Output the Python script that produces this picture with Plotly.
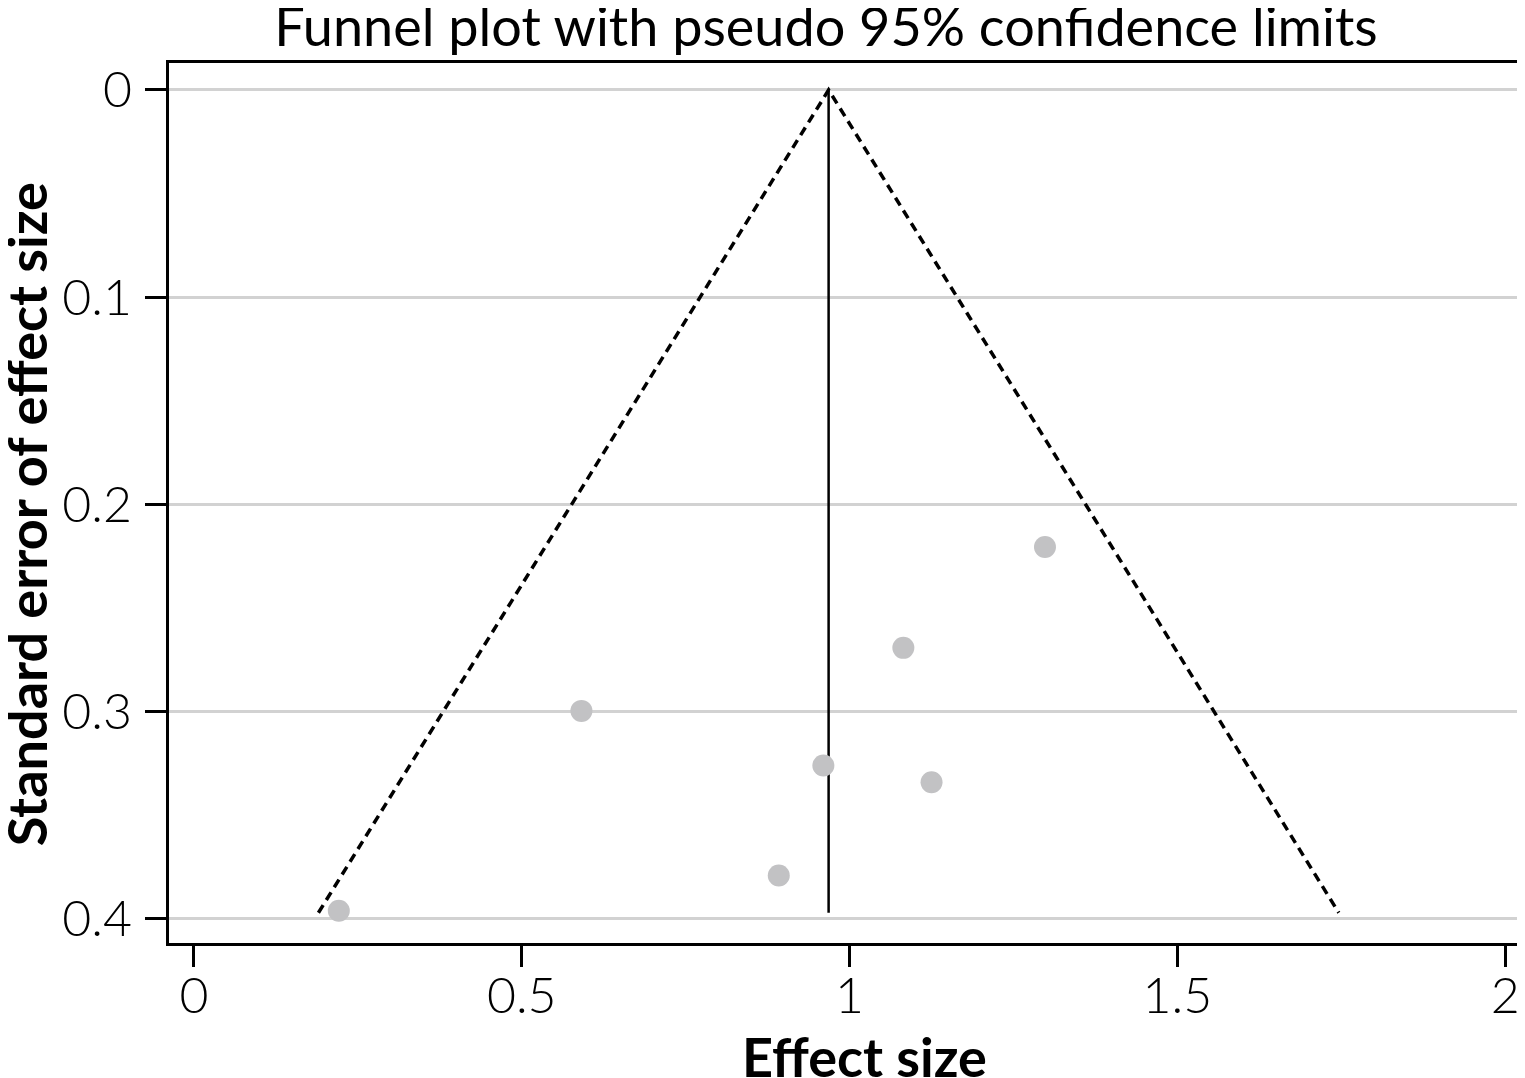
import plotly.graph_objects as go

# Study data (effect size, standard error)
effect = [1.298, 1.082, 0.591, 0.960, 1.125, 0.892, 0.221]
se = [0.2205, 0.2692, 0.2996, 0.3260, 0.3340, 0.3790, 0.3960]

# Pooled estimate and funnel extent
pooled = 0.968
se_max = 0.397
z = 1.96

x_ticks = [0, 0.5, 1, 1.5, 2]
x_ticklabels = ["0", "0.5", "1", "1.5", "2"]
y_ticks = [0, 0.1, 0.2, 0.3, 0.4]
y_ticklabels = ["0", "0.1", "0.2", "0.3", "0.4"]

FONT = "Lato"
W, H = 1525, 1078
L, T, PW, PH = 161, 55, 1355, 880

fig = go.Figure()

# Funnel limits (pseudo 95% CI)
fig.add_trace(go.Scatter(
    x=[pooled - z * se_max, pooled, pooled + z * se_max],
    y=[se_max, 0, se_max],
    mode="lines",
    line=dict(color="black", width=3.5, dash="9px,6px"),
    showlegend=False, hoverinfo="skip",
))
# Pooled estimate line
fig.add_trace(go.Scatter(
    x=[pooled, pooled], y=[0, se_max],
    mode="lines",
    line=dict(color="black", width=2.5),
    showlegend=False, hoverinfo="skip",
))
# Studies
fig.add_trace(go.Scatter(
    x=effect, y=se, mode="markers",
    marker=dict(color="#c2c2c4", size=22, line=dict(width=0)),
    showlegend=False,
))

fig.update_layout(
    width=W, height=H,
    margin=dict(l=L, r=W - L - PW, t=T, b=H - T - PH),
    paper_bgcolor="white", plot_bgcolor="white",
    title=dict(text="Funnel plot with pseudo 95% confidence limits",
               x=818 / W, xanchor="center", xref="container",
               y=1 - 19 / H, yanchor="middle", yref="container",
               font=dict(family=FONT, size=54, color="black")),
    font=dict(family=FONT, color="black"),
    annotations=[
        dict(text="<b>Effect size</b>", xref="paper", yref="paper",
             x=(858 - L) / PW, y=(T + PH - 1048) / PH,
             xanchor="center", yanchor="middle", showarrow=False,
             font=dict(family=FONT, size=54, color="black")),
        dict(text="<b>Standard error of effect size</b>", xref="paper", yref="paper",
             x=(19 - L) / PW, y=(T + PH - 506) / PH, textangle=-90,
             xanchor="center", yanchor="middle", showarrow=False,
             font=dict(family=FONT, size=54, color="black")),
    ],
)
fig.update_xaxes(
    range=[-0.038, 2.024],
    tickvals=x_ticks, ticktext=x_ticklabels,
    showgrid=False, zeroline=False,
    showline=True, linecolor="black", linewidth=3, mirror=True,
    ticks="outside", ticklen=21, tickwidth=3, tickcolor="black",
    ticklabelstandoff=-14,
    tickfont=dict(family=FONT, size=50, color="black", weight=300),
)
fig.update_yaxes(
    range=[0.4116, -0.013],
    tickvals=y_ticks, ticktext=y_ticklabels,
    showgrid=True, gridcolor="#d2d2d2", gridwidth=2.5,
    zeroline=False,
    showline=True, linecolor="black", linewidth=3, mirror=True,
    ticks="outside", ticklen=21, tickwidth=3, tickcolor="black",
    ticklabelstandoff=3,
    tickfont=dict(family=FONT, size=50, color="black", weight=300),
)

fig.write_html("out.html")
